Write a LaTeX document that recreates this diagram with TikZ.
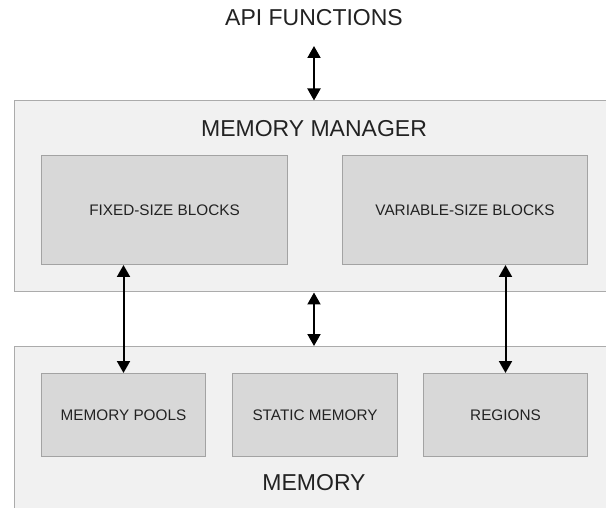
\documentclass[tikz,border=0pt]{standalone}
\usepackage{fontspec}
\setmainfont{Liberation Sans}
\usetikzlibrary{arrows.meta}
\definecolor{outerfill}{HTML}{F1F1F1}
\definecolor{outerline}{HTML}{ABABAB}
\definecolor{innerfill}{HTML}{D8D8D8}
\definecolor{innerline}{HTML}{A3A3A3}
\definecolor{txt}{HTML}{222222}
\begin{document}
\begin{tikzpicture}[x=1pt,y=-1pt,
  outerbox/.style={draw=outerline, fill=outerfill, line width=1pt, inner sep=0pt, anchor=north west},
  innerbox/.style={draw=innerline, fill=innerfill, line width=1pt, inner sep=0pt, anchor=north west, text=txt, font=\fontsize{15.3}{18}\selectfont},
  bigtext/.style={text=txt, font=\fontsize{23}{27}\selectfont, inner sep=0pt},
  arr/.style={{Triangle[width=13pt,length=12pt]}-{Triangle[width=13pt,length=12pt]}, line width=2pt, black}
]
\useasboundingbox (0,0) rectangle (606,508);
\clip (0,0) rectangle (606,508);
\fill[white] (0,0) rectangle (606,508);

\node[bigtext] (api) at (314,18) {API FUNCTIONS};
\coordinate (apiend) at (314,46);

\node[outerbox, minimum width=626pt, minimum height=191pt] (mm) at (14,100.5) {};
\node[bigtext] (mmlabel) at (314,129) {MEMORY MANAGER};
\node[innerbox, minimum width=246pt, minimum height=109pt] (fixed) at (41,155) {FIXED-SIZE BLOCKS};
\node[innerbox, minimum width=245pt, minimum height=109pt] (var) at (342,155) {VARIABLE-SIZE BLOCKS};

\node[outerbox, minimum width=626pt, minimum height=200pt] (mem) at (14,346) {};
\node[innerbox, minimum width=164pt, minimum height=83pt] (pools) at (41,373) {MEMORY POOLS};
\node[innerbox, minimum width=165pt, minimum height=83pt] (static) at (232,373) {STATIC MEMORY};
\node[innerbox, minimum width=164pt, minimum height=83pt] (regions) at (423,373) {REGIONS};
\node[bigtext] (memlabel) at (314,483) {MEMORY};

\draw[arr] (apiend) -- (mm.north -| apiend);
\draw[arr] (mm.south -| apiend) -- (mem.north -| apiend);
\draw[arr] (fixed.south -| pools.north) -- (pools.north);
\draw[arr] (var.south -| regions.north) -- (regions.north);
\end{tikzpicture}
\end{document}
